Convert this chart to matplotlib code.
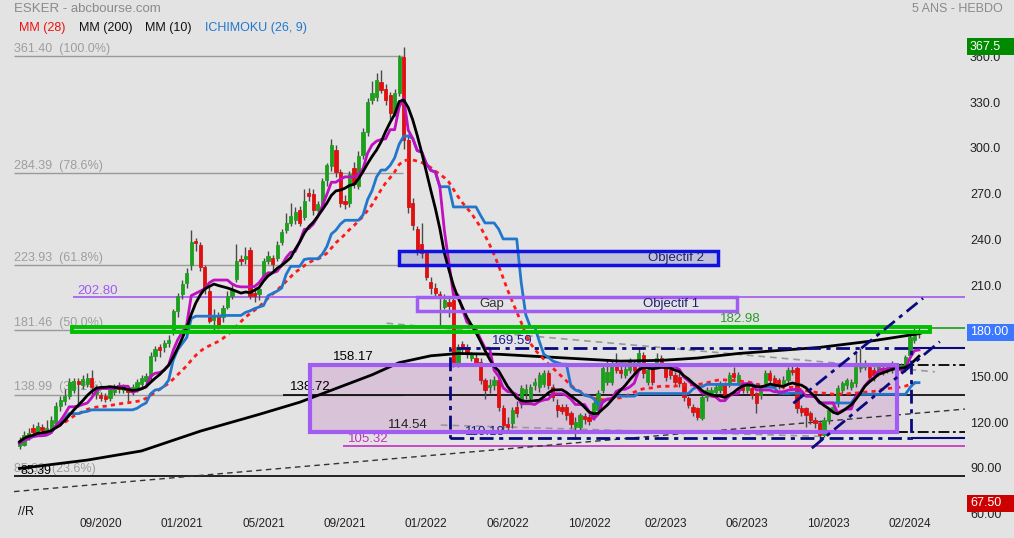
import matplotlib
matplotlib.use('Agg')
import matplotlib.pyplot as plt
import matplotlib.transforms as mtransforms
from matplotlib.patches import Rectangle
import pandas as pd

plt.rcParams['font.family'] = ['Liberation Sans', 'DejaVu Sans']

# bougies hebdo (index 0 = premiere semaine affichee)
opens = [105, 106, 110.7, 117, 114.7, 118, 115, 115, 120.6, 131.6,
         135, 138, 142, 148, 145, 146, 150, 139.6, 139, 138,
         137, 141, 145, 142, 143, 141, 143, 146, 148, 151,
         164.5, 170.5, 170, 173, 181, 194, 205, 212, 224, 239.6,
         237, 222.7, 207, 188, 191, 190, 196.4, 204, 215, 228,
         228, 234, 206, 205, 217, 227, 229, 229, 239, 247,
         252, 253.5, 260.5, 255.7, 271.7, 271, 260, 262, 279.8, 289,
         299.6, 285, 266, 264.6, 288, 276, 296.4, 311.7, 332.5, 334.7,
         344.5, 340, 335.8, 323.7, 337, 361, 306, 264.6, 248, 238,
         231.8, 213, 208.8, 205, 196.8, 200, 201, 159.5, 172, 170,
         163, 163, 160.6, 148.6, 144, 145, 148.6, 130, 120, 120.1,
         131, 133.3, 140, 137, 145, 144.2, 146, 153, 144.2, 132,
         131, 131, 126.7, 118, 118, 125, 124.5, 124.5, 129, 142.1,
         147.5, 147.5, 158, 155.2, 152, 155.2, 158.4, 158.4, 165, 147.5,
         156.3, 159.5, 162.8, 156.3, 155.2, 151.9, 150.8, 146.4, 136.6, 131,
         130, 123.4, 137.6, 140, 141, 142, 145.3, 146.4, 153, 147.5,
         144.2, 142, 143.1, 139.8, 138.7, 146.4, 153, 149.7, 148.6, 145.3,
         148.6, 155.2, 156.3, 130, 130, 126.7, 122.3, 120.1, 112.5, 122.3,
         129, 133.3, 142, 145.3, 144.2, 146.4, 156.3, 157.4, 157.4, 155,
         153, 156.3, 155.2, 155.2, 157.4, 155.2, 156.3, 165, 175, 179]
closes = [108, 112.5, 114, 114.7, 118.4, 116, 117, 122, 131.6, 135.3,
          138, 147.6, 148, 146, 149, 150, 144, 142.5, 137, 136,
          142, 144, 143, 144, 141, 144, 147, 150, 151, 164.5,
          169, 168, 173, 175, 194, 204, 211.8, 219, 239, 238.5,
          222.7, 208.5, 187.6, 191, 184.3, 196, 204, 208.5, 227, 227,
          230, 204, 204, 208.5, 227, 230, 225, 237, 245.8, 252,
          256, 259, 252, 266, 269.5, 260, 264, 279.4, 289.7, 303,
          285.4, 264.6, 264, 284, 277, 296, 311.7, 331.4, 337, 345.6,
          339, 332.5, 323.7, 337, 361, 306, 262.4, 250.4, 234, 231.8,
          216.5, 208.8, 205.5, 203, 201, 197, 159.5, 170.5, 170, 165.5,
          165, 160, 148.6, 142, 145, 148.6, 131, 119.1, 118, 128.9,
          127, 143.1, 143, 144, 147.5, 151.9, 153, 145, 137.7, 128.9,
          128, 125.6, 120, 121, 125.6, 123, 121.5, 133.3, 139.9, 156.3,
          154, 158.5, 155, 153, 155.5, 160.6, 155.2, 166, 153, 155.2,
          147.5, 162.8, 160.6, 150.8, 151.9, 147.5, 146.4, 137.6, 132.2, 127.8,
          124.5, 137.6, 142, 142, 144.2, 146.4, 137.6, 151.9, 150.8, 151.9,
          142, 145.3, 138.7, 133.3, 143.1, 153, 148.6, 146.4, 145.3, 148.6,
          155.2, 154.1, 130, 127.8, 125.6, 122.3, 120.1, 112.5, 122.3, 128.9,
          131, 143.1, 146.4, 148.6, 147.5, 157.4, 159.5, 159.5, 150.8, 151.9,
          157.4, 154.1, 157.4, 159.5, 155.2, 158.4, 163.9, 177, 179.2, 180]
highs = [111, 115, 117, 120, 121, 120, 122, 125, 134, 138,
         143, 150, 150, 150, 152, 153, 155, 145, 141, 140,
         144, 146, 147, 146, 144, 146, 149, 152, 153, 167,
         171, 172, 175, 178, 195, 206, 214, 222, 247, 242,
         239, 224, 210, 195, 193, 198, 207, 212, 238, 231,
         236, 236, 209, 211, 229, 233, 231, 240, 248, 258,
         265, 262, 263, 274, 275, 274, 266, 281, 291, 307,
         303, 287, 270, 286, 292, 299, 314, 334, 345, 350,
         352, 343, 338, 340, 362, 367.5, 310, 268, 250, 252,
         233, 216, 212, 207, 205, 203, 203, 172, 174, 172,
         167, 166, 163, 150, 149, 151, 150, 132, 124, 131,
         135, 145, 146, 146, 150, 154, 155, 155, 146, 136,
         133, 133, 128, 124, 127, 127, 126, 135, 142, 158,
         162, 162, 166, 158, 158, 163, 161, 169.4, 167, 158,
         158, 166, 165, 158, 157, 154, 153, 148, 138, 133,
         131, 139, 144, 144, 146, 148, 147, 154, 157.4, 154,
         146, 147, 145, 141, 145, 155, 155, 152, 150, 151,
         157, 158, 158, 132, 131, 128, 124, 122, 124, 130,
         133, 145, 148, 150, 149, 166, 169.4, 162, 159, 157,
         159, 158, 159, 161, 159, 160, 165, 178, 184.7, 184]
lows = [103, 105, 109, 113, 112, 113, 113, 114, 119, 128,
        132, 136, 140, 131, 143, 144, 139, 136, 135, 134,
        135, 139, 140, 140, 135, 139, 141, 144, 146, 148,
        161, 164, 167, 170, 178, 190, 202, 209, 221, 233,
        220, 205, 186, 181.5, 182, 187, 195, 202, 213, 224,
        225, 202, 200, 201, 214, 225, 221, 227, 237, 245,
        250, 251, 250, 254, 266, 257, 257, 260, 276, 286,
        282, 262, 261, 262, 275, 274, 294, 309, 330, 332,
        337, 329, 320, 322, 335, 300, 258, 247, 231, 229,
        214, 205, 203, 183.6, 195, 190, 157, 157, 166, 163,
        161, 158, 146, 136, 140, 142, 128, 115, 116, 117,
        124, 130, 136, 135, 142, 141, 144, 143, 135, 124,
        126, 122, 117, 110, 116, 120, 119, 122, 127, 140,
        145, 145, 153, 150, 150, 153, 153, 156, 150, 145,
        145, 157, 158, 148, 149, 145, 144, 135, 130, 125,
        122, 122, 135, 138, 139, 140, 135, 144, 148, 145,
        140, 140, 136, 126.7, 136, 144, 146, 144, 143, 143,
        146, 152, 127, 125, 118, 120, 117, 109, 111, 120,
        127, 131, 140, 143, 142, 144, 154, 155, 149, 148,
        151, 152, 153, 153, 153, 153, 154, 163, 173, 176]

# moyenne mobile 200 semaines
mm200_idx = [0, 15, 27, 40, 53, 62, 70, 78, 84, 91, 97, 106, 115, 124, 133, 142, 150, 159, 168, 177, 188, 199]
mm200_val = [90.5, 96, 102, 115, 126, 134, 143, 152, 160, 164.5, 166, 165.5, 164, 162.5, 161, 161.5, 163, 166, 168, 170, 174, 179]

tick_pos = [18, 36, 54, 72, 90, 108, 126, 143, 161, 179, 197]
tick_labels = ['09/2020', '01/2021', '05/2021', '09/2021', '01/2022', '06/2022',
               '10/2022', '02/2023', '06/2023', '10/2023', '02/2024']

fib_levels = [361.40, 284.39, 223.93, 181.46, 138.99, 85.39]
fib_pcts = ['100.0%', '78.6%', '61.8%', '50.0%', '38.2%', '23.6%']

right_ticks_hi = [360, 330, 300, 270, 240, 210]
right_ticks_lo = [150, 120, 90, 60]

# indicateurs
df = pd.DataFrame({'o': opens, 'h': highs, 'l': lows, 'c': closes})
mm10 = df.c.rolling(10, min_periods=1).mean()
mm28 = df.c.rolling(28, min_periods=1).mean()
tenkan = (df.h.rolling(9, min_periods=1).max() + df.l.rolling(9, min_periods=1).min()) / 2
kijun = (df.h.rolling(26, min_periods=1).max() + df.l.rolling(26, min_periods=1).min()) / 2
idx = list(range(len(df)))

BG = '#e3e3e3'
fig = plt.figure(figsize=(10.14, 5.38), dpi=100)
fig.patch.set_facecolor(BG)
L, R, T, B = 14, 965, 40, 512
ax = fig.add_axes([L / 1014, 1 - B / 538, (R - L) / 1014, (B - T) / 538])
ax.set_facecolor(BG)
XL = (L - 19.5) / 4.52
XR = (R - 19.5) / 4.52
ax.set_xlim(XL, XR)
ax.set_ylim(61.9, 371.9)
for s in ax.spines.values():
    s.set_visible(False)
ax.set_yticks([])
ax.set_xticks(tick_pos, tick_labels)
ax.tick_params(axis='x', length=0, pad=4, labelsize=8.5, labelcolor='#222222')

# zones remplies (derriere)
ax.add_patch(Rectangle((64.3, 114.54), 129.9, 158.17 - 114.54, facecolor='#d8c3d8', edgecolor='none', zorder=1))
ax.add_patch(Rectangle((84.0, 223.93), 70.6, 9.5, facecolor='#c0c2da', edgecolor='none', zorder=1))

# fibonacci
ax.hlines(fib_levels[:5], XL, 84.8, color='#9a9a9a', lw=1, zorder=2)
for lv, pc in zip(fib_levels, fib_pcts):
    ax.text(-1.3, lv + 0.8, f'{lv:.2f}  ({pc})', color='#9e9e9e', fontsize=9, va='bottom', zorder=2)

# lignes horizontales
ax.hlines(85.39, XL, XR, color='black', lw=1.2, zorder=2)
ax.text(0.3, 85.0, '85.39', color='black', fontsize=9, va='bottom', zorder=6)
ax.hlines(202.80, 11.8, XR, color='#a259f0', lw=1.2, zorder=2)
ax.text(12.9, 207.3, '202.80', color='#a259f0', fontsize=9.5, va='center')
ax.hlines(182.98, 201.4, XR, color='#1c9c1c', lw=1.2, zorder=2)
ax.text(155, 184.8, '182.98', color='#2a9a2a', fontsize=9.5, va='bottom')
ax.hlines(138.72, 58.3, XR, color='black', lw=1.2, zorder=2)
ax.text(59.8, 140.0, '138.72', color='black', fontsize=9.5, va='bottom')
ax.hlines(105.32, 71.6, XR, color='#c030c0', lw=1.2, zorder=2)
ax.text(72.7, 109.8, '105.32', color='#c030c0', fontsize=9.5, va='center')
ax.hlines([158.17, 114.54], 194.2, XR, color='black', lw=1.3, linestyles=[(0, (6, 2, 1.5, 2))], zorder=2)
ax.text(69.4, 159.6, '158.17', color='black', fontsize=9.5, va='bottom')
ax.text(81.5, 119.1, '114.54', color='#222222', fontsize=9.5, va='center')
ax.hlines([169.59, 110.18], 197.2, XR, color='#0a0a80', lw=1.5, zorder=2)
ax.text(104.5, 174.2, '169.59', color='#1a1a90', fontsize=9.5, va='center')
ax.text(98.6, 114.5, '110.18', color='#1a1a90', fontsize=9.5, va='center')

# droites de tendance
ax.plot([81.2, 202.5], [185.9, 154], color='#999999', lw=1.2, ls=(0, (4, 3)), zorder=2)
ax.plot([93.2, 178], [119, 111.5], color='#999999', lw=1.2, ls=(0, (4, 3)), zorder=2)
ax.plot([XL, XR], [75.3, 129.5], color='#333333', lw=1, ls=(0, (4, 3)), zorder=2)

# bougies
col = ['#1ea01e' if c >= o else '#e01010' for o, c in zip(opens, closes)]
ax.vlines(idx, lows, highs, color='#4a4a4a', lw=1, zorder=3)
ax.bar(idx, [c - o for o, c in zip(opens, closes)], bottom=opens, width=0.72,
       color=col, edgecolor=col, linewidth=0.6, zorder=3.5)

# moyennes et ichimoku
ax.plot(mm200_idx, mm200_val, color='black', lw=2, zorder=4)
ax.plot(idx, mm28, color='#ff1a1a', lw=2, ls=(0, (1.5, 1.5)), zorder=4)
ax.plot(idx, kijun, color='#2277cc', lw=2, zorder=4)
ax.plot(idx, tenkan, color='#c010c0', lw=2, zorder=4)
ax.plot(idx, mm10, color='black', lw=2, zorder=4.2)

# cadres
ax.add_patch(Rectangle((64.3, 114.54), 129.9, 158.17 - 114.54, facecolor='none', edgecolor='#a35cf2', lw=3, zorder=5))
ax.add_patch(Rectangle((84.0, 223.93), 70.6, 9.5, facecolor='none', edgecolor='#1010e0', lw=2.5, zorder=5))
ax.text(145.2, 228.7, 'Objectif 2', color='#202070', fontsize=9.5, ha='center', va='center', zorder=6)
ax.add_patch(Rectangle((88.0, 193.9), 70.8, 8.9, facecolor='none', edgecolor='#a35cf2', lw=2.5, zorder=5))
ax.text(104.5, 198.4, 'Gap', color='#333333', fontsize=9.5, ha='center', va='center', zorder=6)
ax.text(144.1, 198.4, 'Objectif 1', color='#202070', fontsize=9.5, ha='center', va='center', zorder=6)
ax.add_patch(Rectangle((11.6, 180.0), 189.8, 3.3, facecolor='none', edgecolor='#00c000', lw=2.8, zorder=5))
ax.add_patch(Rectangle((95.2, 110.18), 102.0, 169.59 - 110.18, facecolor='none', edgecolor='#0a0a80',
                       lw=2, ls=(0, (5, 2, 1.5, 2)), zorder=5))
ax.plot([171.2, 199.9], [133.3, 202.3], color='#0a0a80', lw=2, ls=(0, (5, 2, 1.5, 2)), zorder=5)
ax.plot([175.3, 203.6], [103.8, 173.8], color='#0a0a80', lw=2, ls=(0, (5, 2, 1.5, 2)), zorder=5)

# axe de droite
blend = mtransforms.blended_transform_factory(fig.transFigure, ax.transData)
for v in right_ticks_hi:
    ax.text(970 / 1014, v, f'{v:.1f}', transform=blend, fontsize=9, color='#222222', va='center', clip_on=False)
for v in right_ticks_lo:
    ax.text(970 / 1014, v, f'{v:.2f}', transform=blend, fontsize=9, color='#222222', va='center', clip_on=False)
for v, txt, c in [(367.5, '367.5', '#008a00'), (180.0, '180.00', '#3b78ff'), (67.5, '67.50', '#cc0000')]:
    ax.add_patch(Rectangle((967 / 1014, v - 5.6), 47 / 1014, 11.2, transform=blend, facecolor=c,
                           edgecolor='none', clip_on=False, zorder=10))
    ax.text(970 / 1014, v, txt, transform=blend, fontsize=9, color='white', va='center', clip_on=False, zorder=11)

# en-tete
fig.text(14 / 1014, 1 - 9 / 538, 'ESKER - abcbourse.com', color='#8a8a8a', fontsize=9.5, va='center')
fig.text(1003 / 1014, 1 - 9 / 538, '5 ANS - HEBDO', color='#8a8a8a', fontsize=9, va='center', ha='right')
for xp, txt, c in [(19, 'MM (28)', '#ee1111'), (79, 'MM (200)', '#111111'),
                   (145, 'MM (10)', '#111111'), (205, 'ICHIMOKU (26, 9)', '#2277cc')]:
    fig.text(xp / 1014, 1 - 28 / 538, txt, color=c, fontsize=9, va='center')
fig.text(18 / 1014, 1 - 512 / 538, '//R', color='#111111', fontsize=9, va='center')

fig.savefig('out.png', dpi=100, facecolor=BG)
